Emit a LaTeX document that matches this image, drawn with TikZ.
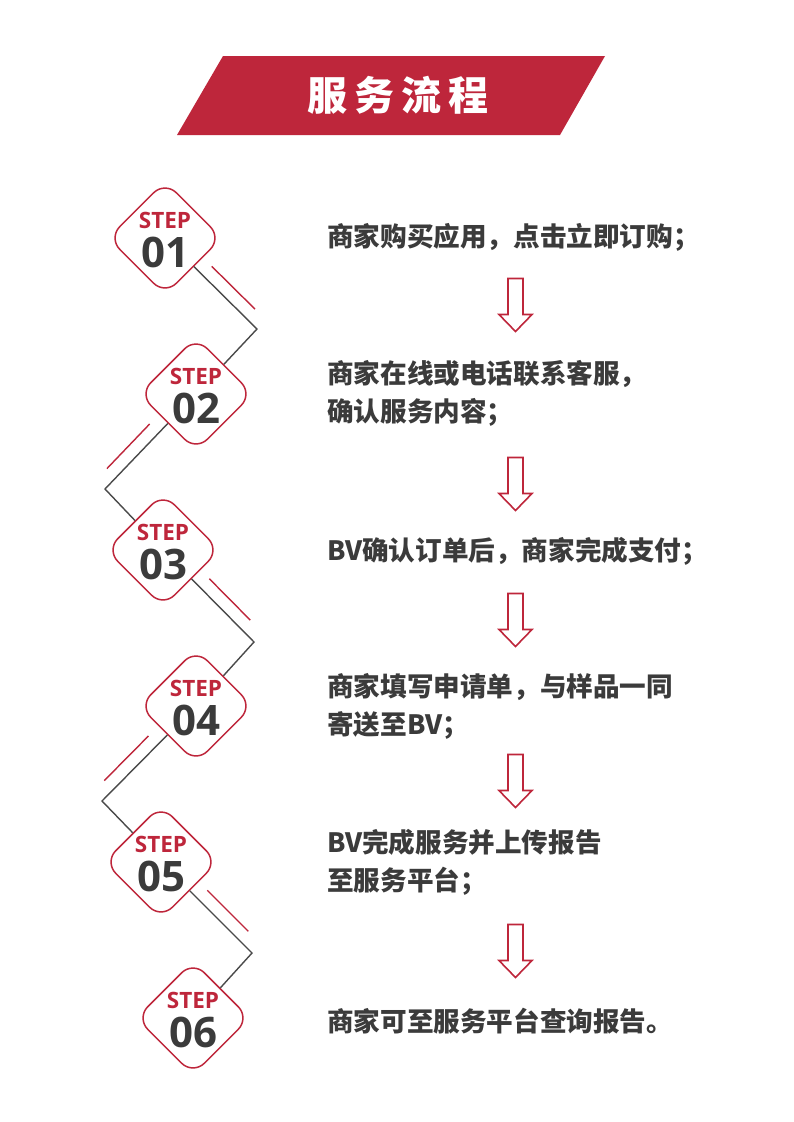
\documentclass[tikz,border=0pt]{standalone}
\usepackage{fontspec}
\usetikzlibrary{calc}
\setmainfont{Open Sans}
\newfontfamily\cjk{Noto Sans CJK SC}
\definecolor{bvred}{HTML}{BE263B}
\definecolor{bvgray}{HTML}{3B3B3B}
\definecolor{bvline}{HTML}{4A4A4A}

\begin{document}
\begin{tikzpicture}[x=1pt,y=-1pt,
  badge/.style={rectangle,rotate=45,rounded corners=16pt,minimum size=80pt,
                inner sep=0pt,draw=bvred,line width=1.5pt,fill=white},
  stepword/.style={text=bvred,inner sep=0pt,
                   font=\fontsize{22.5}{22.5}\selectfont\bfseries},
  stepnum/.style={text=bvgray,inner sep=0pt,
                  font=\fontsize{42}{42}\selectfont\bfseries},
  desc/.style={anchor=west,align=left,text=bvgray,inner sep=0pt,
               font=\cjk\bfseries\fontsize{26.6}{38}\selectfont},
  title/.style={text=white,inner sep=0pt,
                font=\cjk\bfseries\fontsize{40}{40}\selectfont},
  zig/.style={draw=bvline,line width=1.4pt},
  accent/.style={draw=bvred,line width=1.4pt},
  hollow/.style={draw=bvred,line width=1.6pt,fill=white}
]
  \fill[white] (0,0) rectangle (793,1122);
  \useasboundingbox (0,0) rectangle (793,1122);

  % ---- Banner -------------------------------------------------
  \fill[bvred] (223,56) -- (605,56) -- (560,135) -- (177,135) -- cycle;
  \node[title] (ttl) at (398,95)
    {服\hspace{7pt}务\hspace{7pt}流\hspace{7pt}程};

  % ---- Step badges --------------------------------------------
  \node[badge] (s1) at (165,238) {};
  \node[badge] (s2) at (196,394) {};
  \node[badge] (s3) at (163,550) {};
  \node[badge] (s4) at (196,706) {};
  \node[badge] (s5) at (161,862) {};
  \node[badge] (s6) at (193,1018) {};

  % bends of the zigzag
  \coordinate (b1) at (257,329);
  \coordinate (b2) at (105,489);
  \coordinate (b3) at (254,642);
  \coordinate (b4) at (102,801);
  \coordinate (b5) at (252,953);

  \draw[zig] (s1) -- (b1) -- (s2) -- (b2) -- (s3) -- (b3)
             -- (s4) -- (b4) -- (s5) -- (b5) -- (s6);

  % red strokes beside the zigzag
  \draw[accent] ($(s1)!0.41!(b1)+(9,-9)$) -- ($(s1)!0.88!(b1)+(9,-9)$);
  \draw[accent] ($(s2)!0.41!(b2)+(-9,-9)$) -- ($(s2)!0.88!(b2)+(-9,-9)$);
  \draw[accent] ($(s3)!0.41!(b3)+(9,-9)$) -- ($(s3)!0.86!(b3)+(9,-9)$);
  \draw[accent] ($(s4)!0.41!(b4)+(-9,-9)$) -- ($(s4)!0.88!(b4)+(-9,-9)$);
  \draw[accent] ($(s5)!0.41!(b5)+(9,-9)$) -- ($(s5)!0.86!(b5)+(9,-9)$);

  % badge labels
  \node[stepword] at ($(s1)+(0,-18)$) {STEP};
  \node[stepnum]  at ($(s1)+(0,14)$) {01};
  \node[stepword] at ($(s2)+(0,-18)$) {STEP};
  \node[stepnum]  at ($(s2)+(0,14)$) {02};
  \node[stepword] at ($(s3)+(0,-18)$) {STEP};
  \node[stepnum]  at ($(s3)+(0,14)$) {03};
  \node[stepword] at ($(s4)+(0,-18)$) {STEP};
  \node[stepnum]  at ($(s4)+(0,14)$) {04};
  \node[stepword] at ($(s5)+(0,-18)$) {STEP};
  \node[stepnum]  at ($(s5)+(0,14)$) {05};
  \node[stepword] at ($(s6)+(0,-18)$) {STEP};
  \node[stepnum]  at ($(s6)+(0,14)$) {06};

  % ---- Step texts ---------------------------------------------
  \node[desc] (t1) at (327,237) {商家购买应用，点击立即订购；};
  \node[desc] (t2) at (327,393) {商家在线或电话联系客服，\\确认服务内容；};
  \node[desc] (t3) at (327,551) {BV确认订单后，商家完成支付；};
  \node[desc] (t4) at (327,706) {商家填写申请单，与样品一同\\寄送至BV；};
  \node[desc] (t5) at (327,862) {BV完成服务并上传报告\\至服务平台；};
  \node[desc] (t6) at (327,1021) {商家可至服务平台查询报告。};

  % ---- Hollow down arrows -------------------------------------
  \coordinate (a1) at (515.5,305);
  \coordinate (a2) at (515.5,484);
  \coordinate (a3) at (515.5,620);
  \coordinate (a4) at (515.5,781);
  \coordinate (a5) at (515.5,951);

  \draw[hollow] (a1) ++(-7.5,-26.5) -- ++(15,0) -- ++(0,36) -- ++(9,0)
    -- ++(-16.5,17) -- ++(-16.5,-17) -- ++(9,0) -- cycle;
  \draw[hollow] (a2) ++(-7.5,-26.5) -- ++(15,0) -- ++(0,36) -- ++(9,0)
    -- ++(-16.5,17) -- ++(-16.5,-17) -- ++(9,0) -- cycle;
  \draw[hollow] (a3) ++(-7.5,-26.5) -- ++(15,0) -- ++(0,36) -- ++(9,0)
    -- ++(-16.5,17) -- ++(-16.5,-17) -- ++(9,0) -- cycle;
  \draw[hollow] (a4) ++(-7.5,-26.5) -- ++(15,0) -- ++(0,36) -- ++(9,0)
    -- ++(-16.5,17) -- ++(-16.5,-17) -- ++(9,0) -- cycle;
  \draw[hollow] (a5) ++(-7.5,-26.5) -- ++(15,0) -- ++(0,36) -- ++(9,0)
    -- ++(-16.5,17) -- ++(-16.5,-17) -- ++(9,0) -- cycle;

\end{tikzpicture}
\end{document}
